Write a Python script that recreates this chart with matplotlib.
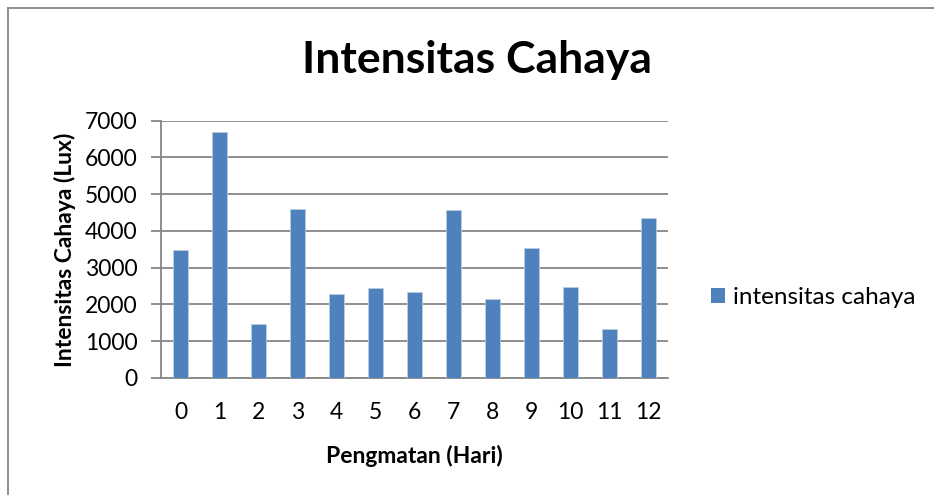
import matplotlib
matplotlib.use("Agg")
import matplotlib.pyplot as plt
from matplotlib.lines import Line2D
from matplotlib.patches import Rectangle

days = [0, 1, 2, 3, 4, 5, 6, 7, 8, 9, 10, 11, 12]
lux = [3480, 6680, 1470, 4610, 2280, 2450, 2340, 4560, 2150, 3530, 2480, 1320, 4360]
series_name = "intensitas cahaya"
title = "Intensitas Cahaya"
xlabel = "Pengmatan (Hari)"
ylabel = "Intensitas Cahaya (Lux)"
yticks = [0, 1000, 2000, 3000, 4000, 5000, 6000, 7000]

plt.rcParams['font.family'] = ['Lato', 'DejaVu Sans']

W, H = 934, 495
fig = plt.figure(figsize=(W / 100, H / 100), dpi=100)
ax = fig.add_axes([161 / W, 1 - 378 / H, (668 - 161) / W, (378 - 120.7) / H])

bar_color = "#4F81BD"
ax.bar(days, lux, width=0.4, color=bar_color, edgecolor="#B9CDE5", linewidth=0.6, zorder=3)

ax.set_xlim(-0.5, 12.5)
ax.set_ylim(0, 7000)
ax.set_yticks(yticks)
ax.set_xticks(days)
ax.set_xticklabels([str(d) for d in days])
ax.grid(axis="y", color="#868686", linewidth=1.3, zorder=0)
ax.set_axisbelow(True)

for s in ["top", "right"]:
    ax.spines[s].set_visible(False)
ax.spines["left"].set_color("#868686")
ax.spines["bottom"].set_color("#868686")
ax.spines["left"].set_linewidth(1.3)
ax.spines["bottom"].set_linewidth(1.3)

ax.tick_params(axis="y", length=7, width=1.3, color="#868686", labelsize=16.5, pad=10)
ax.tick_params(axis="x", length=0, labelsize=16.5, pad=17)

ax.set_xlabel(xlabel, fontsize=16.5, fontweight="bold", labelpad=16)
ax.set_ylabel(ylabel, fontsize=16.5, fontweight="bold", labelpad=6)

fig.text(477 / W, 1 - 60 / H, title, fontsize=32, fontweight="bold", ha="center", va="center")

# legend
fig.patches.append(Rectangle((711 / W, 1 - 303 / H), 14 / W, 15 / H, transform=fig.transFigure,
                             facecolor=bar_color, edgecolor="none"))
fig.text(733 / W, 1 - 297 / H, series_name, fontsize=17.5, ha="left", va="center")

# chart border
fig.lines.append(Line2D([8 / W, 8 / W], [0, 1 - 8 / H], transform=fig.transFigure, color="#868686", linewidth=1.3))
fig.lines.append(Line2D([8 / W, 1], [1 - 8 / H, 1 - 8 / H], transform=fig.transFigure, color="#868686", linewidth=1.3))

fig.savefig("out.png", dpi=100)
